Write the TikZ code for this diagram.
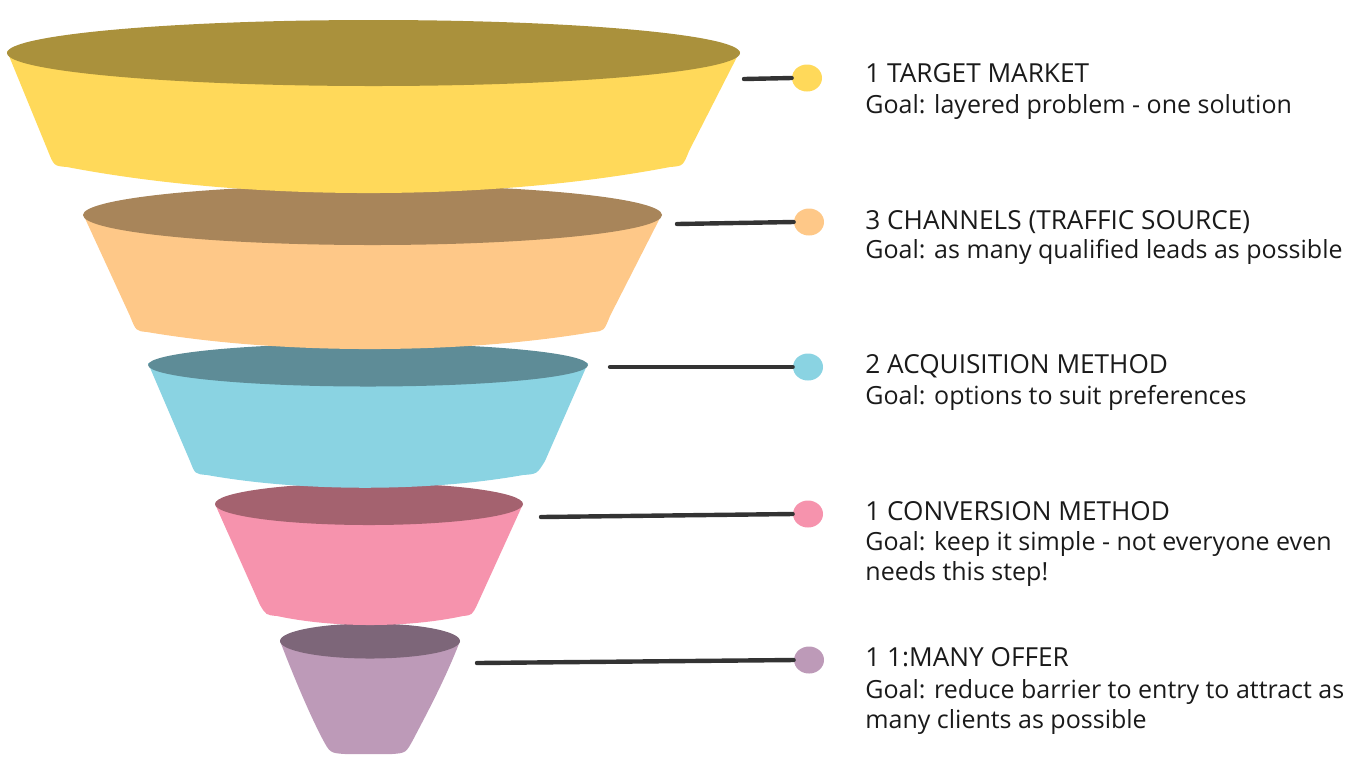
\documentclass[tikz,border=0pt]{standalone}
\usepackage{fontspec}
\setmainfont{Open Sans}
\usetikzlibrary{shapes.geometric}
\definecolor{yb}{HTML}{FFD95A}\definecolor{yt}{HTML}{AA913C}
\definecolor{pb}{HTML}{FEC888}\definecolor{pt}{HTML}{A8855A}
\definecolor{bb}{HTML}{8AD3E2}\definecolor{bt}{HTML}{5E8C97}
\definecolor{kb}{HTML}{F693AD}\definecolor{kt}{HTML}{A4626F}
\definecolor{vb}{HTML}{BD9AB8}\definecolor{vt}{HTML}{7D6679}
\definecolor{ink}{HTML}{1A1A1A}
\definecolor{wire}{HTML}{333333}
\tikzset{
  dot/.style={ellipse,inner sep=0pt,minimum width=15pt,minimum height=13.5pt},
  wirestyle/.style={draw=wire,line width=2.2pt,line cap=round},
  ttl/.style={anchor=base west,inner sep=0pt,text=ink,font=\fontsize{13.1}{15}\selectfont},
  goal/.style={anchor=base west,inner sep=0pt,text=ink,align=left,font=\fontsize{12.5}{15}\selectfont},
}
\begin{document}
\begin{tikzpicture}[x=0.5pt,y=-0.5pt]
\useasboundingbox (0,0) rectangle (1368,757);
% layer 5
\fill[vb] (280,641) .. controls (295,680) and (310,715) .. (322,738) .. controls (330,753) .. (345,754) -- (392,754) .. controls (406,753) .. (414,738) .. controls (426,715) and (445,680) .. (460,641) -- cycle;
\fill[vt] (370,641) ellipse [x radius=90,y radius=17.5];
% layer 4
\fill[kb] (215,504) -- (260,605) .. controls (266,615) .. (277,616) .. controls (333,628) and (407,628) .. (463,616) .. controls (472,615) .. (477,605) -- (523,504) -- cycle;
\fill[kt] (369,504) ellipse [x radius=154,y radius=21];
% layer 3
\fill[bb] (148,363) -- (190,461) .. controls (195,474) .. (207,475) .. controls (302,492) and (428,492) .. (523,475) .. controls (537,474) .. (545,461) -- (588,363) -- cycle;
\fill[bt] (368,365) ellipse [x radius=220,y radius=21.5];
% layer 2
\fill[pb] (83,214) -- (130,316) .. controls (136,331) .. (147,332) .. controls (281,354.7) and (459,354.7) .. (593,332) .. controls (604,331) .. (610,316) -- (662,214) -- cycle;
\fill[pt] (372.5,215) ellipse [x radius=289.5,y radius=30];
% layer 1
\fill[yb] (7,51) -- (48,151) .. controls (54,166) .. (67,167) .. controls (248,201.7) and (489,201.7) .. (670,167) .. controls (683,166) .. (689,151) -- (740,51) -- cycle;
\fill[yt] (373.5,53) ellipse [x radius=366.5,y radius=33];
% connectors
\coordinate (s1) at (744,79);
\coordinate (s2) at (677,224);
\coordinate (s3) at (610,367);
\coordinate (s4) at (541,517);
\coordinate (s5) at (477,663);
\node[dot,fill=yb] (d1) at (807,78) {};
\node[dot,fill=pb] (d2) at (809,222) {};
\node[dot,fill=bb] (d3) at (808,367) {};
\node[dot,fill=kb] (d4) at (808,514) {};
\node[dot,fill=vb] (d5) at (809,660) {};
\draw[wirestyle] (s1) -- (d1.west);
\draw[wirestyle] (s2) -- (d2.west);
\draw[wirestyle] (s3) -- (d3.west);
\draw[wirestyle] (s4) -- (d4.west);
\draw[wirestyle] (s5) -- (d5.west);
% texts
\node[ttl] (t1) at (865,82) {1 TARGET MARKET};
\node[goal] (g1) at (865,113) {Goal: layered problem - one solution};
\node[ttl] (t2) at (865,229) {3 CHANNELS (TRAFFIC SOURCE)};
\node[goal] (g2) at (865,258) {Goal: as many qualified leads as possible};
\node[ttl] (t3) at (865,373) {2 ACQUISITION METHOD};
\node[goal] (g3) at (865,404) {Goal: options to suit preferences};
\node[ttl] (t4) at (865,520) {1 CONVERSION METHOD};
\node[goal] (g4) at (865,580) {Goal: keep it simple - not everyone even\\needs this step!};
\node[ttl] (t5) at (865,666) {1 1:MANY OFFER};
\node[goal] (g5) at (865,728) {Goal: reduce barrier to entry to attract as\\many clients as possible};
\end{tikzpicture}
\end{document}
